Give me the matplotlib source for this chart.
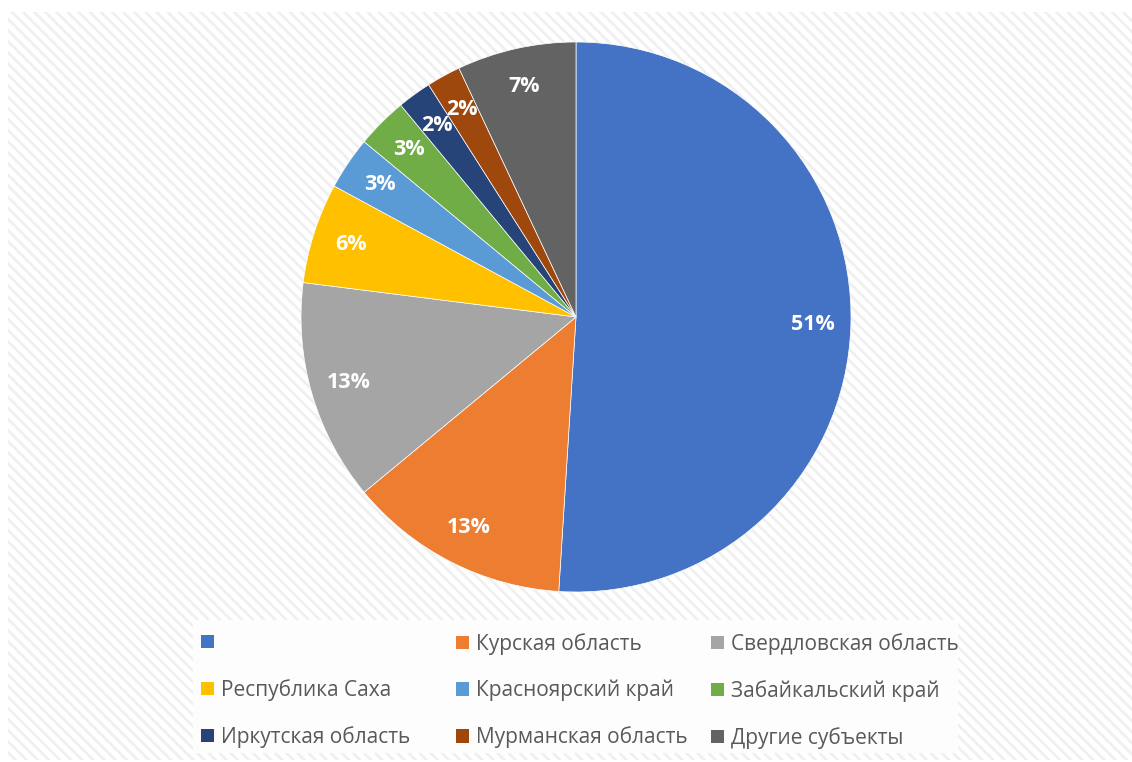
import matplotlib.pyplot as plt
from matplotlib.patches import Rectangle, Patch

plt.rcParams['font.family'] = ['Open Sans', 'DejaVu Sans']
plt.rcParams['hatch.linewidth'] = 2.0
plt.rcParams['hatch.color'] = '#f0f0f0'

# --- данные ---
regions = ['', 'Курская область', 'Свердловская область',
           'Республика Саха', 'Красноярский край', 'Забайкальский край',
           'Иркутская область', 'Мурманская область', 'Другие субъекты']
shares = [51.0, 13.0, 13.0, 5.9, 3.1, 3.0, 2.0, 2.0, 7.0]
colors = ['#4472C4', '#ED7D31', '#A5A5A5', '#FFC000', '#5B9BD5',
          '#70AD47', '#264478', '#9E480E', '#636363']

W, H = 1132, 762
fig = plt.figure(figsize=(W / 100, H / 100), dpi=100)

# фон с диагональной штриховкой
fig.patches.append(Rectangle((8 / W, 2 / H), 1 - 8 / W, 748 / H,
                             transform=fig.transFigure, facecolor='white',
                             edgecolor='#f0f0f0', hatch='\\\\\\', lw=0, zorder=-2))
# подложка легенды
fig.patches.append(Rectangle((193 / W, (H - 753) / H), 765 / W, 133 / H,
                             transform=fig.transFigure, facecolor='#fdfdfd',
                             edgecolor='none', zorder=-1))

cx, cy, r = 576, 317, 275
ax = fig.add_axes([(cx - r) / W, (H - cy - r) / H, 2 * r / W, 2 * r / H])
wedges, texts, autotexts = ax.pie(
    shares, colors=colors, startangle=90, counterclock=False,
    autopct=lambda p: f'{p:.0f}%', pctdistance=0.86,
    wedgeprops=dict(edgecolor='white', linewidth=0.5),
    textprops=dict(color='white', fontsize=15.5, fontweight='bold'))
ax.set_xlim(-1, 1)
ax.set_ylim(-1, 1)
ax.set_aspect('equal')

# легенда: три колонки, заполнение по строкам
col_x = [201, 456, 711]
for c in range(3):
    idx = [c, c + 3, c + 6]
    handles = [Patch(facecolor=colors[i], edgecolor='none') for i in idx]
    fig.legend(handles, [regions[i] for i in idx],
               loc='upper left', bbox_to_anchor=(col_x[c] / W, (H - 633) / H),
               frameon=False, fontsize=15, labelcolor='#595959',
               handlelength=0.6, handleheight=0.6, handletextpad=0.35,
               labelspacing=1.2, borderaxespad=0, borderpad=0)

fig.savefig('out.png', dpi=100)
